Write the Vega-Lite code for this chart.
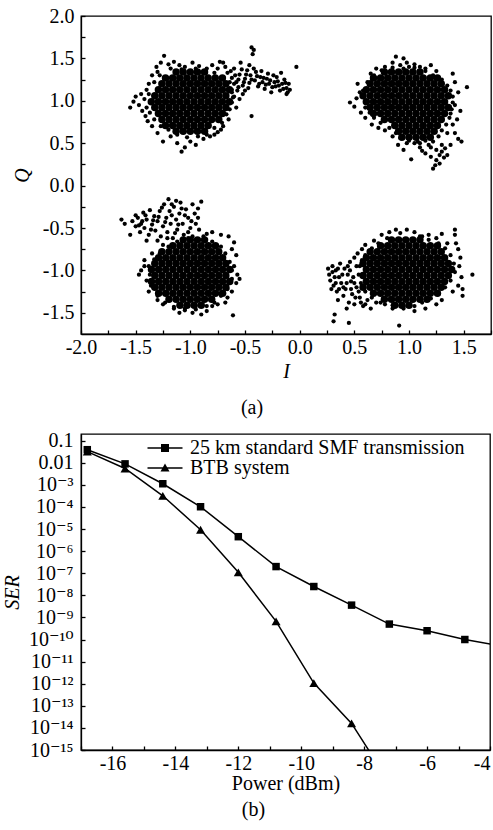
{
  "$schema": "https://vega.github.io/schema/vega-lite/v6.json",
  "background": "white",
  "padding": {"left": 1, "top": 5, "right": 3, "bottom": 5},
  "bounds": "flush",
  "spacing": 100,
  "resolve": {"legend": {"shape": "independent"}, "scale": {"shape": "independent"}},
  "config": {
    "font": "Liberation Serif",
    "view": {"stroke": "black", "strokeWidth": 1.3},
    "axis": {"domainColor": "black", "domainWidth": 1.3, "tickColor": "black", "tickWidth": 1.3, "labelColor": "black", "titleColor": "black", "labelFont": "Liberation Serif, DejaVu Serif", "titleFont": "Liberation Serif", "labelFontSize": 20, "titleFontSize": 20, "titleFontWeight": "normal", "grid": false, "tickSize": -4, "labelFlush": false, "labelOverlap": false},
    "axisX": {"labelPadding": 7, "titlePadding": 4},
    "axisY": {"labelPadding": 11, "titlePadding": 10},
    "title": {"font": "Liberation Serif", "fontSize": 20, "fontWeight": "normal", "color": "black"}
  },
  "datasets": {
    "core": [
      {"I":-1.13,"Q":1.34},{"I":-1.065,"Q":1.34},{"I":-1,"Q":1.34},{"I":-0.935,"Q":1.34},{"I":-0.87,"Q":1.34},
      {"I":-1.227,"Q":1.27},{"I":-1.162,"Q":1.27},{"I":-1.097,"Q":1.27},{"I":-1.032,"Q":1.27},{"I":-0.967,"Q":1.27},{"I":-0.902,"Q":1.27},{"I":-0.837,"Q":1.27},{"I":-0.772,"Q":1.27},{"I":-0.707,"Q":1.27},
      {"I":-1.26,"Q":1.2},{"I":-1.195,"Q":1.2},{"I":-1.13,"Q":1.2},{"I":-1.065,"Q":1.2},{"I":-1,"Q":1.2},{"I":-0.935,"Q":1.2},{"I":-0.87,"Q":1.2},{"I":-0.805,"Q":1.2},{"I":-0.74,"Q":1.2},{"I":-0.675,"Q":1.2},
      {"I":-1.292,"Q":1.13},{"I":-1.227,"Q":1.13},{"I":-1.162,"Q":1.13},{"I":-1.097,"Q":1.13},{"I":-1.032,"Q":1.13},{"I":-0.967,"Q":1.13},{"I":-0.902,"Q":1.13},{"I":-0.837,"Q":1.13},{"I":-0.772,"Q":1.13},{"I":-0.707,"Q":1.13},{"I":-0.642,"Q":1.13},
      {"I":-1.325,"Q":1.06},{"I":-1.26,"Q":1.06},{"I":-1.195,"Q":1.06},{"I":-1.13,"Q":1.06},{"I":-1.065,"Q":1.06},{"I":-1,"Q":1.06},{"I":-0.935,"Q":1.06},{"I":-0.87,"Q":1.06},{"I":-0.805,"Q":1.06},{"I":-0.74,"Q":1.06},{"I":-0.675,"Q":1.06},
      {"I":-1.357,"Q":0.99},{"I":-1.292,"Q":0.99},{"I":-1.227,"Q":0.99},{"I":-1.162,"Q":0.99},{"I":-1.097,"Q":0.99},{"I":-1.032,"Q":0.99},{"I":-0.967,"Q":0.99},{"I":-0.902,"Q":0.99},{"I":-0.837,"Q":0.99},{"I":-0.772,"Q":0.99},{"I":-0.707,"Q":0.99},{"I":-0.642,"Q":0.99},
      {"I":-1.325,"Q":0.92},{"I":-1.26,"Q":0.92},{"I":-1.195,"Q":0.92},{"I":-1.13,"Q":0.92},{"I":-1.065,"Q":0.92},{"I":-1,"Q":0.92},{"I":-0.935,"Q":0.92},{"I":-0.87,"Q":0.92},{"I":-0.805,"Q":0.92},{"I":-0.74,"Q":0.92},{"I":-0.675,"Q":0.92},
      {"I":-1.292,"Q":0.85},{"I":-1.227,"Q":0.85},{"I":-1.162,"Q":0.85},{"I":-1.097,"Q":0.85},{"I":-1.032,"Q":0.85},{"I":-0.967,"Q":0.85},{"I":-0.902,"Q":0.85},{"I":-0.837,"Q":0.85},{"I":-0.772,"Q":0.85},{"I":-0.707,"Q":0.85},
      {"I":-1.26,"Q":0.78},{"I":-1.195,"Q":0.78},{"I":-1.13,"Q":0.78},{"I":-1.065,"Q":0.78},{"I":-1,"Q":0.78},{"I":-0.935,"Q":0.78},{"I":-0.87,"Q":0.78},{"I":-0.805,"Q":0.78},{"I":-0.74,"Q":0.78},
      {"I":-1.227,"Q":0.71},{"I":-1.162,"Q":0.71},{"I":-1.097,"Q":0.71},{"I":-1.032,"Q":0.71},{"I":-0.967,"Q":0.71},{"I":-0.902,"Q":0.71},{"I":-0.837,"Q":0.71},
      {"I":-1.13,"Q":0.64},{"I":-1.065,"Q":0.64},{"I":-1,"Q":0.64},{"I":-0.935,"Q":0.64},{"I":-0.87,"Q":0.64},

      {"I":0.775,"Q":1.34},{"I":0.84,"Q":1.34},{"I":0.905,"Q":1.34},{"I":0.97,"Q":1.34},{"I":1.035,"Q":1.34},{"I":1.1,"Q":1.34},
      {"I":0.675,"Q":1.27},{"I":0.74,"Q":1.27},{"I":0.805,"Q":1.27},{"I":0.87,"Q":1.27},{"I":0.935,"Q":1.27},{"I":1,"Q":1.27},{"I":1.065,"Q":1.27},{"I":1.13,"Q":1.27},{"I":1.195,"Q":1.27},{"I":1.26,"Q":1.27},
      {"I":0.645,"Q":1.2},{"I":0.71,"Q":1.2},{"I":0.775,"Q":1.2},{"I":0.84,"Q":1.2},{"I":0.905,"Q":1.2},{"I":0.97,"Q":1.2},{"I":1.035,"Q":1.2},{"I":1.1,"Q":1.2},{"I":1.165,"Q":1.2},{"I":1.23,"Q":1.2},{"I":1.295,"Q":1.2},
      {"I":0.61,"Q":1.13},{"I":0.675,"Q":1.13},{"I":0.74,"Q":1.13},{"I":0.805,"Q":1.13},{"I":0.87,"Q":1.13},{"I":0.935,"Q":1.13},{"I":1,"Q":1.13},{"I":1.065,"Q":1.13},{"I":1.13,"Q":1.13},{"I":1.195,"Q":1.13},{"I":1.26,"Q":1.13},{"I":1.325,"Q":1.13},
      {"I":0.58,"Q":1.06},{"I":0.645,"Q":1.06},{"I":0.71,"Q":1.06},{"I":0.775,"Q":1.06},{"I":0.84,"Q":1.06},{"I":0.905,"Q":1.06},{"I":0.97,"Q":1.06},{"I":1.035,"Q":1.06},{"I":1.1,"Q":1.06},{"I":1.165,"Q":1.06},{"I":1.23,"Q":1.06},{"I":1.295,"Q":1.06},{"I":1.36,"Q":1.06},
      {"I":0.61,"Q":0.99},{"I":0.675,"Q":0.99},{"I":0.74,"Q":0.99},{"I":0.805,"Q":0.99},{"I":0.87,"Q":0.99},{"I":0.935,"Q":0.99},{"I":1,"Q":0.99},{"I":1.065,"Q":0.99},{"I":1.13,"Q":0.99},{"I":1.195,"Q":0.99},{"I":1.26,"Q":0.99},{"I":1.325,"Q":0.99},
      {"I":0.645,"Q":0.92},{"I":0.71,"Q":0.92},{"I":0.775,"Q":0.92},{"I":0.84,"Q":0.92},{"I":0.905,"Q":0.92},{"I":0.97,"Q":0.92},{"I":1.035,"Q":0.92},{"I":1.1,"Q":0.92},{"I":1.165,"Q":0.92},{"I":1.23,"Q":0.92},{"I":1.295,"Q":0.92},{"I":1.36,"Q":0.92},
      {"I":0.675,"Q":0.85},{"I":0.74,"Q":0.85},{"I":0.805,"Q":0.85},{"I":0.87,"Q":0.85},{"I":0.935,"Q":0.85},{"I":1,"Q":0.85},{"I":1.065,"Q":0.85},{"I":1.13,"Q":0.85},{"I":1.195,"Q":0.85},{"I":1.26,"Q":0.85},{"I":1.325,"Q":0.85},
      {"I":0.775,"Q":0.78},{"I":0.84,"Q":0.78},{"I":0.905,"Q":0.78},{"I":0.97,"Q":0.78},{"I":1.035,"Q":0.78},{"I":1.1,"Q":0.78},{"I":1.165,"Q":0.78},{"I":1.23,"Q":0.78},{"I":1.295,"Q":0.78},
      {"I":0.87,"Q":0.71},{"I":0.935,"Q":0.71},{"I":1,"Q":0.71},{"I":1.065,"Q":0.71},{"I":1.13,"Q":0.71},{"I":1.195,"Q":0.71},{"I":1.26,"Q":0.71},
      {"I":0.905,"Q":0.64},{"I":0.97,"Q":0.64},{"I":1.035,"Q":0.64},{"I":1.1,"Q":0.64},{"I":1.165,"Q":0.64},{"I":1.23,"Q":0.64},
      {"I":0.935,"Q":0.57},{"I":1,"Q":0.57},{"I":1.065,"Q":0.57},{"I":1.13,"Q":0.57},{"I":1.195,"Q":0.57},

      {"I":-1.065,"Q":-0.64},{"I":-1,"Q":-0.64},{"I":-0.935,"Q":-0.64},{"I":-0.87,"Q":-0.64},
      {"I":-1.16,"Q":-0.71},{"I":-1.095,"Q":-0.71},{"I":-1.03,"Q":-0.71},{"I":-0.965,"Q":-0.71},{"I":-0.9,"Q":-0.71},{"I":-0.835,"Q":-0.71},{"I":-0.77,"Q":-0.71},
      {"I":-1.26,"Q":-0.78},{"I":-1.195,"Q":-0.78},{"I":-1.13,"Q":-0.78},{"I":-1.065,"Q":-0.78},{"I":-1,"Q":-0.78},{"I":-0.935,"Q":-0.78},{"I":-0.87,"Q":-0.78},{"I":-0.805,"Q":-0.78},{"I":-0.74,"Q":-0.78},
      {"I":-1.29,"Q":-0.85},{"I":-1.225,"Q":-0.85},{"I":-1.16,"Q":-0.85},{"I":-1.095,"Q":-0.85},{"I":-1.03,"Q":-0.85},{"I":-0.965,"Q":-0.85},{"I":-0.9,"Q":-0.85},{"I":-0.835,"Q":-0.85},{"I":-0.77,"Q":-0.85},{"I":-0.705,"Q":-0.85},
      {"I":-1.325,"Q":-0.92},{"I":-1.26,"Q":-0.92},{"I":-1.195,"Q":-0.92},{"I":-1.13,"Q":-0.92},{"I":-1.065,"Q":-0.92},{"I":-1,"Q":-0.92},{"I":-0.935,"Q":-0.92},{"I":-0.87,"Q":-0.92},{"I":-0.805,"Q":-0.92},{"I":-0.74,"Q":-0.92},{"I":-0.675,"Q":-0.92},
      {"I":-1.355,"Q":-0.99},{"I":-1.29,"Q":-0.99},{"I":-1.225,"Q":-0.99},{"I":-1.16,"Q":-0.99},{"I":-1.095,"Q":-0.99},{"I":-1.03,"Q":-0.99},{"I":-0.965,"Q":-0.99},{"I":-0.9,"Q":-0.99},{"I":-0.835,"Q":-0.99},{"I":-0.77,"Q":-0.99},{"I":-0.705,"Q":-0.99},{"I":-0.64,"Q":-0.99},
      {"I":-1.325,"Q":-1.06},{"I":-1.26,"Q":-1.06},{"I":-1.195,"Q":-1.06},{"I":-1.13,"Q":-1.06},{"I":-1.065,"Q":-1.06},{"I":-1,"Q":-1.06},{"I":-0.935,"Q":-1.06},{"I":-0.87,"Q":-1.06},{"I":-0.805,"Q":-1.06},{"I":-0.74,"Q":-1.06},{"I":-0.675,"Q":-1.06},
      {"I":-1.355,"Q":-1.13},{"I":-1.29,"Q":-1.13},{"I":-1.225,"Q":-1.13},{"I":-1.16,"Q":-1.13},{"I":-1.095,"Q":-1.13},{"I":-1.03,"Q":-1.13},{"I":-0.965,"Q":-1.13},{"I":-0.9,"Q":-1.13},{"I":-0.835,"Q":-1.13},{"I":-0.77,"Q":-1.13},{"I":-0.705,"Q":-1.13},{"I":-0.64,"Q":-1.13},
      {"I":-1.325,"Q":-1.2},{"I":-1.26,"Q":-1.2},{"I":-1.195,"Q":-1.2},{"I":-1.13,"Q":-1.2},{"I":-1.065,"Q":-1.2},{"I":-1,"Q":-1.2},{"I":-0.935,"Q":-1.2},{"I":-0.87,"Q":-1.2},{"I":-0.805,"Q":-1.2},{"I":-0.74,"Q":-1.2},{"I":-0.675,"Q":-1.2},
      {"I":-1.29,"Q":-1.27},{"I":-1.225,"Q":-1.27},{"I":-1.16,"Q":-1.27},{"I":-1.095,"Q":-1.27},{"I":-1.03,"Q":-1.27},{"I":-0.965,"Q":-1.27},{"I":-0.9,"Q":-1.27},{"I":-0.835,"Q":-1.27},{"I":-0.77,"Q":-1.27},{"I":-0.705,"Q":-1.27},
      {"I":-1.195,"Q":-1.34},{"I":-1.13,"Q":-1.34},{"I":-1.065,"Q":-1.34},{"I":-1,"Q":-1.34},{"I":-0.935,"Q":-1.34},{"I":-0.87,"Q":-1.34},{"I":-0.805,"Q":-1.34},
      {"I":-1.095,"Q":-1.41},{"I":-1.03,"Q":-1.41},{"I":-0.965,"Q":-1.41},{"I":-0.9,"Q":-1.41},

      {"I":0.84,"Q":-0.64},{"I":0.905,"Q":-0.64},{"I":0.97,"Q":-0.64},{"I":1.035,"Q":-0.64},{"I":1.1,"Q":-0.64},
      {"I":0.74,"Q":-0.71},{"I":0.805,"Q":-0.71},{"I":0.87,"Q":-0.71},{"I":0.935,"Q":-0.71},{"I":1,"Q":-0.71},{"I":1.065,"Q":-0.71},{"I":1.13,"Q":-0.71},{"I":1.195,"Q":-0.71},{"I":1.26,"Q":-0.71},
      {"I":0.645,"Q":-0.78},{"I":0.71,"Q":-0.78},{"I":0.775,"Q":-0.78},{"I":0.84,"Q":-0.78},{"I":0.905,"Q":-0.78},{"I":0.97,"Q":-0.78},{"I":1.035,"Q":-0.78},{"I":1.1,"Q":-0.78},{"I":1.165,"Q":-0.78},{"I":1.23,"Q":-0.78},{"I":1.295,"Q":-0.78},
      {"I":0.61,"Q":-0.85},{"I":0.675,"Q":-0.85},{"I":0.74,"Q":-0.85},{"I":0.805,"Q":-0.85},{"I":0.87,"Q":-0.85},{"I":0.935,"Q":-0.85},{"I":1,"Q":-0.85},{"I":1.065,"Q":-0.85},{"I":1.13,"Q":-0.85},{"I":1.195,"Q":-0.85},{"I":1.26,"Q":-0.85},{"I":1.325,"Q":-0.85},
      {"I":0.58,"Q":-0.92},{"I":0.645,"Q":-0.92},{"I":0.71,"Q":-0.92},{"I":0.775,"Q":-0.92},{"I":0.84,"Q":-0.92},{"I":0.905,"Q":-0.92},{"I":0.97,"Q":-0.92},{"I":1.035,"Q":-0.92},{"I":1.1,"Q":-0.92},{"I":1.165,"Q":-0.92},{"I":1.23,"Q":-0.92},{"I":1.295,"Q":-0.92},{"I":1.36,"Q":-0.92},
      {"I":0.61,"Q":-0.99},{"I":0.675,"Q":-0.99},{"I":0.74,"Q":-0.99},{"I":0.805,"Q":-0.99},{"I":0.87,"Q":-0.99},{"I":0.935,"Q":-0.99},{"I":1,"Q":-0.99},{"I":1.065,"Q":-0.99},{"I":1.13,"Q":-0.99},{"I":1.195,"Q":-0.99},{"I":1.26,"Q":-0.99},{"I":1.325,"Q":-0.99},{"I":1.39,"Q":-0.99},
      {"I":0.58,"Q":-1.06},{"I":0.645,"Q":-1.06},{"I":0.71,"Q":-1.06},{"I":0.775,"Q":-1.06},{"I":0.84,"Q":-1.06},{"I":0.905,"Q":-1.06},{"I":0.97,"Q":-1.06},{"I":1.035,"Q":-1.06},{"I":1.1,"Q":-1.06},{"I":1.165,"Q":-1.06},{"I":1.23,"Q":-1.06},{"I":1.295,"Q":-1.06},{"I":1.36,"Q":-1.06},
      {"I":0.61,"Q":-1.13},{"I":0.675,"Q":-1.13},{"I":0.74,"Q":-1.13},{"I":0.805,"Q":-1.13},{"I":0.87,"Q":-1.13},{"I":0.935,"Q":-1.13},{"I":1,"Q":-1.13},{"I":1.065,"Q":-1.13},{"I":1.13,"Q":-1.13},{"I":1.195,"Q":-1.13},{"I":1.26,"Q":-1.13},{"I":1.325,"Q":-1.13},
      {"I":0.58,"Q":-1.2},{"I":0.645,"Q":-1.2},{"I":0.71,"Q":-1.2},{"I":0.775,"Q":-1.2},{"I":0.84,"Q":-1.2},{"I":0.905,"Q":-1.2},{"I":0.97,"Q":-1.2},{"I":1.035,"Q":-1.2},{"I":1.1,"Q":-1.2},{"I":1.165,"Q":-1.2},{"I":1.23,"Q":-1.2},{"I":1.295,"Q":-1.2},
      {"I":0.675,"Q":-1.27},{"I":0.74,"Q":-1.27},{"I":0.805,"Q":-1.27},{"I":0.87,"Q":-1.27},{"I":0.935,"Q":-1.27},{"I":1,"Q":-1.27},{"I":1.065,"Q":-1.27},{"I":1.13,"Q":-1.27},{"I":1.195,"Q":-1.27},{"I":1.26,"Q":-1.27},
      {"I":0.775,"Q":-1.34},{"I":0.84,"Q":-1.34},{"I":0.905,"Q":-1.34},{"I":0.97,"Q":-1.34},{"I":1.035,"Q":-1.34},{"I":1.1,"Q":-1.34},{"I":1.165,"Q":-1.34},
      {"I":0.87,"Q":-1.41},{"I":0.935,"Q":-1.41},{"I":1,"Q":-1.41}
    ],
    "edge": [
      {"I":-1.55,"Q":0.92},{"I":-1.52,"Q":0.99},{"I":-1.5,"Q":1.05},{"I":-1.47,"Q":0.95},{"I":-1.45,"Q":1.08},{"I":-1.44,"Q":0.88},{"I":-1.42,"Q":1.02},{"I":-1.41,"Q":0.82},{"I":-1.4,"Q":1.13},{"I":-1.39,"Q":0.76},{"I":-1.38,"Q":1.2},
      {"I":-1.24,"Q":1.53},{"I":-1.27,"Q":1.45},{"I":-1.31,"Q":1.4},{"I":-1.2,"Q":1.43},{"I":-1.15,"Q":1.46},{"I":-1.1,"Q":1.42},{"I":-1.05,"Q":1.4},{"I":-0.98,"Q":1.45},{"I":-0.92,"Q":1.41},{"I":-0.85,"Q":1.38},{"I":-0.8,"Q":1.42},{"I":-0.73,"Q":1.46},{"I":-1.35,"Q":1.3},{"I":-1.3,"Q":1.34},
      {"I":-0.66,"Q":1.33},{"I":-0.62,"Q":1.27},{"I":-0.6,"Q":1.38},{"I":-0.58,"Q":1.22},{"I":-0.55,"Q":1.31},{"I":-0.54,"Q":1.45},{"I":-0.52,"Q":1.18},{"I":-0.5,"Q":1.26},{"I":-0.48,"Q":1.36},{"I":-0.46,"Q":1.21},{"I":-0.45,"Q":1.3},{"I":-0.44,"Q":1.63},{"I":-0.42,"Q":1.6},{"I":-0.43,"Q":1.55},{"I":-0.41,"Q":1.24},{"I":-0.4,"Q":1.34},{"I":-0.38,"Q":1.17},{"I":-0.36,"Q":1.28},{"I":-0.34,"Q":1.22},{"I":-0.32,"Q":1.14},{"I":-0.3,"Q":1.26},{"I":-0.28,"Q":1.2},{"I":-0.26,"Q":1.1},{"I":-0.24,"Q":1.3},{"I":-0.22,"Q":1.17},{"I":-0.2,"Q":1.23},{"I":-0.18,"Q":1.12},{"I":-0.16,"Q":1.2},{"I":-0.14,"Q":1.25},{"I":-0.12,"Q":1.15},{"I":-0.11,"Q":1.1},{"I":-0.13,"Q":1.21},{"I":-0.17,"Q":1.33},{"I":-0.03,"Q":1.4},{"I":-0.44,"Q":0.82},{"I":-0.6,"Q":1.05},{"I":-0.57,"Q":1.12},{"I":-0.62,"Q":0.98},{"I":-0.58,"Q":0.92},{"I":-0.55,"Q":1.02},{"I":-0.52,"Q":1.08},
      {"I":-0.65,"Q":0.78},{"I":-0.7,"Q":0.7},{"I":-0.75,"Q":0.63},{"I":-0.72,"Q":0.66},{"I":-1.25,"Q":0.52},{"I":-1.12,"Q":0.5},{"I":-1.08,"Q":0.4},{"I":-1.05,"Q":0.45},{"I":-1,"Q":0.52},{"I":-0.95,"Q":0.48},{"I":-0.88,"Q":0.55},{"I":-0.82,"Q":0.58},{"I":-1.18,"Q":0.58},{"I":-1.3,"Q":0.62},{"I":-1.35,"Q":0.7},{"I":-0.78,"Q":0.6},
      {"I":-1.4,"Q":0.92},{"I":-1.38,"Q":1.08},{"I":-1.33,"Q":1.22},{"I":-1.28,"Q":1.3},{"I":-1.18,"Q":1.38},{"I":-1.08,"Q":1.37},{"I":-0.95,"Q":1.38},{"I":-0.88,"Q":1.35},{"I":-0.78,"Q":1.33},{"I":-0.7,"Q":1.28},{"I":-0.64,"Q":1.22},{"I":-0.62,"Q":1.1},{"I":-0.61,"Q":1.04},{"I":-0.64,"Q":0.9},{"I":-0.67,"Q":0.84},{"I":-0.71,"Q":0.74},{"I":-0.78,"Q":0.68},{"I":-0.85,"Q":0.6},{"I":-0.93,"Q":0.58},{"I":-1.03,"Q":0.57},{"I":-1.12,"Q":0.6},{"I":-1.2,"Q":0.66},{"I":-1.27,"Q":0.7},{"I":-1.33,"Q":0.78},{"I":-1.37,"Q":0.86},
      {"I":-0.63,"Q":1.35},{"I":-0.59,"Q":1.3},{"I":-0.56,"Q":1.25},{"I":-0.53,"Q":1.37},{"I":-0.51,"Q":1.22},{"I":-0.49,"Q":1.31},{"I":-0.47,"Q":1.15},{"I":-0.44,"Q":1.25},{"I":-0.42,"Q":1.38},{"I":-0.39,"Q":1.29},{"I":-0.37,"Q":1.2},{"I":-0.35,"Q":1.35},{"I":-0.33,"Q":1.27},{"I":-0.31,"Q":1.19},{"I":-0.29,"Q":1.32},{"I":-0.27,"Q":1.24},{"I":-0.25,"Q":1.16},{"I":-0.23,"Q":1.22},{"I":-0.21,"Q":1.28},{"I":-0.19,"Q":1.18},{"I":-0.15,"Q":1.14},{"I":-0.1,"Q":1.2},{"I":-0.09,"Q":1.13},{"I":-0.12,"Q":1.08},{"I":-0.56,"Q":1.16},{"I":-0.6,"Q":1.2},{"I":-0.62,"Q":1.13},{"I":-0.5,"Q":1.12},{"I":-0.46,"Q":1.42},{"I":-0.68,"Q":1.4},{"I":-0.7,"Q":1.45},{"I":-0.75,"Q":1.38},

      {"I":0.46,"Q":0.98},{"I":0.5,"Q":0.93},{"I":0.52,"Q":1.03},{"I":0.55,"Q":1.1},{"I":0.53,"Q":1.2},{"I":0.56,"Q":0.86},{"I":0.6,"Q":0.8},{"I":0.66,"Q":0.72},{"I":0.72,"Q":0.68},{"I":0.78,"Q":0.65},
      {"I":0.88,"Q":1.52},{"I":0.95,"Q":1.5},{"I":0.85,"Q":1.45},{"I":0.78,"Q":1.4},{"I":0.7,"Q":1.38},{"I":0.98,"Q":1.45},{"I":1.05,"Q":1.43},{"I":1.1,"Q":1.4},{"I":1.15,"Q":1.38},{"I":1.2,"Q":1.42},{"I":1.25,"Q":1.35},{"I":1,"Q":1.4},{"I":0.92,"Q":1.42},{"I":0.65,"Q":1.32},
      {"I":1.4,"Q":1.32},{"I":1.42,"Q":1.22},{"I":1.45,"Q":1.1},{"I":1.4,"Q":1.05},{"I":1.42,"Q":0.95},{"I":1.47,"Q":0.88},{"I":1.53,"Q":1.16},{"I":1.44,"Q":0.78},{"I":1.4,"Q":0.72},{"I":1.42,"Q":0.62},{"I":1.45,"Q":0.55},{"I":1.48,"Q":0.52},{"I":1.38,"Q":0.85},
      {"I":1.3,"Q":0.4},{"I":1.35,"Q":0.36},{"I":1.25,"Q":0.3},{"I":1.22,"Q":0.2},{"I":1.28,"Q":0.26},{"I":1.32,"Q":0.33},{"I":1.15,"Q":0.38},{"I":1.1,"Q":0.45},{"I":1.02,"Q":0.31},{"I":0.95,"Q":0.42},{"I":0.9,"Q":0.48},{"I":1.05,"Q":0.5},{"I":1.2,"Q":0.45},{"I":1.3,"Q":0.48},{"I":0.98,"Q":0.5},{"I":1.38,"Q":0.48},{"I":0.85,"Q":0.58},{"I":1.35,"Q":0.62},
      {"I":0.6,"Q":1},{"I":0.58,"Q":1.12},{"I":0.62,"Q":1.22},{"I":0.68,"Q":1.3},{"I":0.75,"Q":1.36},{"I":0.85,"Q":1.39},{"I":0.95,"Q":1.38},{"I":1.05,"Q":1.39},{"I":1.15,"Q":1.35},{"I":1.22,"Q":1.3},{"I":1.3,"Q":1.25},{"I":1.35,"Q":1.18},{"I":1.38,"Q":1.12},{"I":1.4,"Q":0.98},{"I":1.39,"Q":0.9},{"I":1.37,"Q":0.8},{"I":1.34,"Q":0.72},{"I":1.3,"Q":0.65},{"I":1.27,"Q":0.58},{"I":1.22,"Q":0.52},{"I":1.15,"Q":0.53},{"I":1.08,"Q":0.52},{"I":1,"Q":0.53},{"I":0.92,"Q":0.56},{"I":0.88,"Q":0.62},{"I":0.82,"Q":0.68},{"I":0.74,"Q":0.74},{"I":0.68,"Q":0.8},{"I":0.64,"Q":0.86},{"I":0.6,"Q":0.92},
      {"I":1.1,"Q":0.5},{"I":1.18,"Q":0.48},{"I":1.25,"Q":0.42},{"I":1.33,"Q":0.44},{"I":1.28,"Q":0.36},{"I":1.2,"Q":0.34},{"I":1.12,"Q":0.41},{"I":1.24,"Q":0.24},

      {"I":-1.53,"Q":-0.42},{"I":-1.5,"Q":-0.48},{"I":-1.48,"Q":-0.38},{"I":-1.46,"Q":-0.55},{"I":-1.45,"Q":-0.45},{"I":-1.43,"Q":-0.32},{"I":-1.42,"Q":-0.5},{"I":-1.4,"Q":-0.4},{"I":-1.38,"Q":-0.58},{"I":-1.37,"Q":-0.29},{"I":-1.35,"Q":-0.46},{"I":-1.33,"Q":-0.36},{"I":-1.32,"Q":-0.53},{"I":-1.3,"Q":-0.42},{"I":-1.28,"Q":-0.3},{"I":-1.27,"Q":-0.6},{"I":-1.25,"Q":-0.48},{"I":-1.24,"Q":-0.22},{"I":-1.22,"Q":-0.38},{"I":-1.21,"Q":-0.55},{"I":-1.19,"Q":-0.3},{"I":-1.18,"Q":-0.45},{"I":-1.16,"Q":-0.62},{"I":-1.15,"Q":-0.25},{"I":-1.13,"Q":-0.4},{"I":-1.12,"Q":-0.52},{"I":-1.1,"Q":-0.33},{"I":-1.09,"Q":-0.2},{"I":-1.07,"Q":-0.45},{"I":-1.06,"Q":-0.58},{"I":-1.04,"Q":-0.28},{"I":-1.02,"Q":-0.38},{"I":-1,"Q":-0.5},{"I":-0.98,"Q":-0.22},{"I":-0.96,"Q":-0.33},{"I":-0.95,"Q":-0.45},{"I":-0.93,"Q":-0.27},{"I":-0.9,"Q":-0.19},{"I":-1.2,"Q":-0.16},{"I":-1.13,"Q":-0.18},{"I":-0.98,"Q":-0.6},{"I":-1.02,"Q":-0.62},{"I":-1.3,"Q":-0.65},{"I":-1.55,"Q":-0.58},{"I":-1.6,"Q":-0.45},{"I":-1.63,"Q":-0.4},{"I":-1.25,"Q":-0.7},{"I":-1.4,"Q":-0.65},
      {"I":-1.5,"Q":-0.35},{"I":-1.44,"Q":-0.42},{"I":-1.36,"Q":-0.52},{"I":-1.29,"Q":-0.37},{"I":-1.23,"Q":-0.43},{"I":-1.17,"Q":-0.35},{"I":-1.11,"Q":-0.46},{"I":-1.05,"Q":-0.35},{"I":-0.99,"Q":-0.42},{"I":-1.08,"Q":-0.27},{"I":-1.17,"Q":-0.22},{"I":-1.26,"Q":-0.26},{"I":-1.34,"Q":-0.41},{"I":-1.41,"Q":-0.35},{"I":-0.93,"Q":-0.38},{"I":-1.02,"Q":-0.55},{"I":-1.14,"Q":-0.56},{"I":-1.21,"Q":-0.62},{"I":-0.92,"Q":-0.52},{"I":-1.47,"Q":-0.47},
      {"I":-0.65,"Q":-0.6},{"I":-0.6,"Q":-0.67},{"I":-0.62,"Q":-0.75},{"I":-0.58,"Q":-0.82},{"I":-0.6,"Q":-0.95},{"I":-0.57,"Q":-1.05},{"I":-0.58,"Q":-1.15},{"I":-0.62,"Q":-1.25},{"I":-0.66,"Q":-1.32},{"I":-0.55,"Q":-1.1},{"I":-0.72,"Q":-0.58},{"I":-0.8,"Q":-0.55},{"I":-0.85,"Q":-0.57},{"I":-0.68,"Q":-1.38},
      {"I":-1.45,"Q":-1},{"I":-1.47,"Q":-1.05},{"I":-1.42,"Q":-0.95},{"I":-1.4,"Q":-1.12},{"I":-1.42,"Q":-0.88},{"I":-1.38,"Q":-1.25},{"I":-1.35,"Q":-0.8},{"I":-1.3,"Q":-1.35},{"I":-1.25,"Q":-1.4},
      {"I":-1.1,"Q":-1.5},{"I":-1.05,"Q":-1.47},{"I":-0.98,"Q":-1.5},{"I":-0.9,"Q":-1.52},{"I":-0.85,"Q":-1.48},{"I":-1.15,"Q":-1.45},{"I":-0.8,"Q":-1.42},{"I":-0.75,"Q":-1.4},{"I":-0.61,"Q":-1.53},
      {"I":-1.38,"Q":-0.95},{"I":-1.37,"Q":-1.05},{"I":-1.36,"Q":-1.18},{"I":-1.3,"Q":-1.3},{"I":-1.23,"Q":-1.38},{"I":-1.15,"Q":-1.43},{"I":-1.05,"Q":-1.45},{"I":-0.95,"Q":-1.46},{"I":-0.85,"Q":-1.42},{"I":-0.78,"Q":-1.38},{"I":-0.72,"Q":-1.3},{"I":-0.66,"Q":-1.22},{"I":-0.62,"Q":-1.1},{"I":-0.62,"Q":-1},{"I":-0.64,"Q":-0.9},{"I":-0.68,"Q":-0.8},{"I":-0.72,"Q":-0.72},{"I":-0.8,"Q":-0.66},{"I":-0.88,"Q":-0.6},{"I":-1.12,"Q":-0.66},{"I":-1.2,"Q":-0.72},{"I":-1.28,"Q":-0.8},{"I":-1.33,"Q":-0.87},

      {"I":0.27,"Q":-1.05},{"I":0.28,"Q":-1.12},{"I":0.3,"Q":-0.95},{"I":0.31,"Q":-1.18},{"I":0.33,"Q":-1},{"I":0.34,"Q":-1.25},{"I":0.36,"Q":-1.08},{"I":0.37,"Q":-0.92},{"I":0.38,"Q":-1.15},{"I":0.4,"Q":-1.3},{"I":0.41,"Q":-0.98},{"I":0.42,"Q":-1.22},{"I":0.44,"Q":-1.05},{"I":0.45,"Q":-1.38},{"I":0.46,"Q":-0.9},{"I":0.47,"Q":-1.13},{"I":0.48,"Q":-1.28},{"I":0.5,"Q":-0.85},{"I":0.5,"Q":-1.4},{"I":0.52,"Q":-1.2},{"I":0.53,"Q":-0.8},{"I":0.55,"Q":-1.32},{"I":0.57,"Q":-0.75},{"I":0.58,"Q":-1.42},{"I":0.6,"Q":-0.7},{"I":0.62,"Q":-1.35},{"I":0.26,"Q":-0.98},{"I":0.29,"Q":-1.22},{"I":0.35,"Q":-1.35},{"I":0.43,"Q":-1.45},{"I":0.32,"Q":-1.52},{"I":0.31,"Q":-1.6},{"I":0.45,"Q":-1.62},{"I":0.91,"Q":-1.65},
      {"I":0.32,"Q":-1.08},{"I":0.35,"Q":-0.98},{"I":0.39,"Q":-1.05},{"I":0.43,"Q":-1.15},{"I":0.46,"Q":-1},{"I":0.49,"Q":-1.08},{"I":0.52,"Q":-0.95},{"I":0.54,"Q":-1.25},{"I":0.51,"Q":-1.32},{"I":0.47,"Q":-1.22},{"I":0.4,"Q":-1.2},{"I":0.36,"Q":-1.22},{"I":0.33,"Q":-1.15},{"I":0.3,"Q":-1.02},{"I":0.44,"Q":-0.95},{"I":0.5,"Q":-1.15},{"I":0.56,"Q":-1.38},{"I":0.6,"Q":-1.4},
      {"I":0.75,"Q":-0.58},{"I":0.82,"Q":-0.55},{"I":0.88,"Q":-0.52},{"I":0.92,"Q":-0.56},{"I":0.98,"Q":-0.52},{"I":1.05,"Q":-0.55},{"I":1.1,"Q":-0.6},{"I":1.18,"Q":-0.58},{"I":1.25,"Q":-0.62},{"I":1.3,"Q":-0.57},{"I":1.42,"Q":-0.52},{"I":1.42,"Q":-0.58},{"I":0.68,"Q":-0.65},{"I":1.35,"Q":-0.68},
      {"I":1.45,"Q":-0.75},{"I":1.47,"Q":-0.85},{"I":1.46,"Q":-0.95},{"I":1.48,"Q":-1.08},{"I":1.45,"Q":-1.18},{"I":1.58,"Q":-1.05},{"I":1.49,"Q":-1.22},{"I":1.49,"Q":-1.3},{"I":1.4,"Q":-1.25},{"I":1.43,"Q":-0.68},
      {"I":1.3,"Q":-1.35},{"I":1.25,"Q":-1.4},{"I":1.15,"Q":-1.45},{"I":1.05,"Q":-1.48},{"I":0.95,"Q":-1.45},{"I":0.85,"Q":-1.45},{"I":0.78,"Q":-1.4},{"I":0.7,"Q":-1.38},{"I":0.65,"Q":-1.45},
      {"I":0.55,"Q":-0.95},{"I":0.54,"Q":-1.05},{"I":0.56,"Q":-1.15},{"I":0.6,"Q":-1.25},{"I":0.66,"Q":-1.32},{"I":0.74,"Q":-1.38},{"I":0.85,"Q":-1.41},{"I":0.95,"Q":-1.43},{"I":1.05,"Q":-1.42},{"I":1.12,"Q":-1.38},{"I":1.2,"Q":-1.33},{"I":1.27,"Q":-1.28},{"I":1.33,"Q":-1.2},{"I":1.38,"Q":-1.12},{"I":1.42,"Q":-1.02},{"I":1.41,"Q":-0.92},{"I":1.38,"Q":-0.82},{"I":1.33,"Q":-0.74},{"I":1.27,"Q":-0.68},{"I":1.18,"Q":-0.64},{"I":1.12,"Q":-0.6},{"I":0.8,"Q":-0.62},{"I":0.72,"Q":-0.68},{"I":0.66,"Q":-0.74},{"I":0.6,"Q":-0.82},{"I":0.57,"Q":-0.88}
    ],
    "ser": [
      {"P":-16.8,"SER":0.039,"series":"25 km standard SMF transmission"},
      {"P":-15.6,"SER":0.0089,"series":"25 km standard SMF transmission"},
      {"P":-14.4,"SER":0.00112,"series":"25 km standard SMF transmission"},
      {"P":-13.2,"SER":1.02e-4,"series":"25 km standard SMF transmission"},
      {"P":-12.0,"SER":4.5e-6,"series":"25 km standard SMF transmission"},
      {"P":-10.8,"SER":2.0e-7,"series":"25 km standard SMF transmission"},
      {"P":-9.6,"SER":2.5e-8,"series":"25 km standard SMF transmission"},
      {"P":-8.4,"SER":3.6e-9,"series":"25 km standard SMF transmission"},
      {"P":-7.2,"SER":5.0e-10,"series":"25 km standard SMF transmission"},
      {"P":-6.0,"SER":2.5e-10,"series":"25 km standard SMF transmission"},
      {"P":-4.8,"SER":1.0e-10,"series":"25 km standard SMF transmission"},
      {"P":-3.6,"SER":5.0e-11,"series":"25 km standard SMF transmission"},
      {"P":-16.8,"SER":0.032,"series":"BTB system"},
      {"P":-15.6,"SER":0.0055,"series":"BTB system"},
      {"P":-14.4,"SER":3.2e-4,"series":"BTB system"},
      {"P":-13.2,"SER":9.3e-6,"series":"BTB system"},
      {"P":-12.0,"SER":1.1e-7,"series":"BTB system"},
      {"P":-10.8,"SER":6.6e-10,"series":"BTB system"},
      {"P":-9.6,"SER":1.07e-12,"series":"BTB system"},
      {"P":-8.4,"SER":1.6e-14,"series":"BTB system"},
      {"P":-7.2,"SER":3.4e-17,"series":"BTB system"}
    ]
  },
  "vconcat": [
    {
      "width": 410,
      "height": 318,
      "title": {"text": "(a)", "orient": "bottom", "dx": -34, "offset": 17},
      "encoding": {
        "x": {"field": "I", "type": "quantitative", "scale": {"domain": [-2, 1.75], "nice": false, "zero": false},
          "axis": {"title": "I", "titleFontStyle": "italic", "values": [-2, -1.75, -1.5, -1.25, -1, -0.75, -0.5, -0.25, 0, 0.25, 0.5, 0.75, 1, 1.25, 1.5, 1.75],
            "labelExpr": "abs(datum.value * 2 - round(datum.value * 2)) < 0.01 ? replace(format(datum.value, '.1f'), '\u2212', '-') : ''"}},
        "y": {"field": "Q", "type": "quantitative", "scale": {"domain": [-1.75, 2], "nice": false, "zero": false},
          "axis": {"title": "Q", "titleFontStyle": "italic", "values": [-1.5, -1.25, -1, -0.75, -0.5, -0.25, 0, 0.25, 0.5, 0.75, 1, 1.25, 1.5, 1.75, 2],
            "labelExpr": "abs(datum.value * 2 - round(datum.value * 2)) < 0.01 ? replace(format(datum.value, '.1f'), '\u2212', '-') : ''"}}
      },
      "layer": [
        {"data": {"name": "core"}, "mark": {"type": "point", "shape": "circle", "filled": true, "color": "black", "opacity": 1, "size": 56}},
        {"data": {"name": "edge"}, "mark": {"type": "point", "shape": "circle", "filled": true, "color": "black", "opacity": 1, "size": 18}}
      ]
    },
    {
      "width": 409,
      "height": 316,
      "title": {"text": "(b)", "orient": "bottom", "dx": -32, "offset": 7},
      "data": {"name": "ser"},
      "encoding": {
        "x": {"field": "P", "type": "quantitative", "scale": {"domain": [-17, -4], "nice": false, "zero": false},
          "axis": {"title": "Power (dBm)", "titlePadding": 0, "labelFlush": true, "values": [-17, -16, -15, -14, -13, -12, -11, -10, -9, -8, -7, -6, -5, -4],
            "labelExpr": "datum.value % 2 == 0 ? replace(format(datum.value, 'd'), '\u2212', '-') : ''"}},
        "y": {"field": "SER", "type": "quantitative", "scale": {"type": "log", "domain": [1e-15, 0.2], "nice": false},
          "axis": {"title": "SER", "titleFontStyle": "italic", "titlePadding": 6, "labelPadding": 12,
            "values": [1e-15, 1e-14, 1e-13, 1e-12, 1e-11, 1e-10, 1e-9, 1e-8, 1e-7, 1e-6, 1e-5, 1e-4, 1e-3, 0.01, 0.1],
            "labelExpr": "datum.value >= 0.05 ? '0.1' : datum.value >= 0.005 ? '0.01' : '10\u207b' + (round(-log(datum.value) / LN10) >= 10 ? '\u00b9' + ['\u2070', '\u00b9', '\u00b2', '\u00b3', '\u2074', '\u2075'][round(-log(datum.value) / LN10) - 10] : ['\u2070', '\u00b9', '\u00b2', '\u00b3', '\u2074', '\u2075', '\u2076', '\u2077', '\u2078', '\u2079'][round(-log(datum.value) / LN10)])"}}
      },
      "layer": [
        {"mark": {"type": "line", "color": "black", "strokeWidth": 1.5, "clip": true},
          "encoding": {"detail": {"field": "series", "type": "nominal"}}},
        {"transform": [{"filter": "datum.series == '25 km standard SMF transmission'"}],
          "mark": {"type": "point", "shape": "square", "filled": true, "color": "black", "opacity": 1, "size": 56, "clip": true}},
        {"transform": [{"filter": "datum.series == 'BTB system'"}],
          "mark": {"type": "point", "shape": "triangle-up", "filled": true, "color": "black", "opacity": 1, "size": 81, "clip": true}},
        {"transform": [{"filter": "false"}],
          "mark": {"type": "point", "filled": true, "color": "black", "opacity": 1},
          "encoding": {"shape": {"field": "series", "type": "nominal",
            "scale": {"domain": ["25 km standard SMF transmission", "BTB system"], "range": ["M-3.5,-0.15H3.5V0.15H-3.5ZM-0.8,-0.8H0.8V0.8H-0.8Z", "M-3.5,-0.15H3.5V0.15H-3.5ZM-0.9,0.7L0,-0.9L0.9,0.7Z"]},
            "legend": {"title": null, "orient": "none", "legendX": 74, "legendY": 4, "padding": 0, "symbolSize": 100, "symbolFillColor": "black", "symbolOpacity": 1, "labelFontSize": 20, "labelFont": "Liberation Serif", "labelColor": "black", "labelOffset": 15, "labelLimit": 500, "rowPadding": -4}}}}
      ]
    }
  ]
}
